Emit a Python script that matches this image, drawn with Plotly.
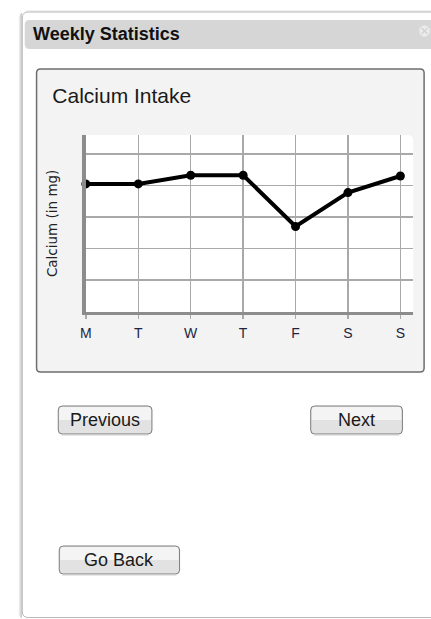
import plotly.graph_objects as go

# ---- data ----
days = ["M", "T", "W", "T", "F", "S", "S"]
day_pos = [0, 1, 2, 3, 4, 5, 6]
calcium_mg = [810, 810, 865, 865, 540, 755, 860]

W, H = 431, 619


def X(px):
    return px / W


def Y(py):
    return 1 - py / H


def rrect(x0, y0, x1, y1, r=4, tl=True, tr=True, br=True, bl=True):
    rtl = r if tl else 0
    rtr = r if tr else 0
    rbr = r if br else 0
    rbl = r if bl else 0
    p = f"M {X(x0 + rtl)},{Y(y0)} L {X(x1 - rtr)},{Y(y0)} "
    p += f"Q {X(x1)},{Y(y0)} {X(x1)},{Y(y0 + rtr)} " if rtr else ""
    p += f"L {X(x1)},{Y(y1 - rbr)} "
    p += f"Q {X(x1)},{Y(y1)} {X(x1 - rbr)},{Y(y1)} " if rbr else ""
    p += f"L {X(x0 + rbl)},{Y(y1)} "
    p += f"Q {X(x0)},{Y(y1)} {X(x0)},{Y(y1 - rbl)} " if rbl else ""
    p += f"L {X(x0)},{Y(y0 + rtl)} "
    p += f"Q {X(x0)},{Y(y0)} {X(x0 + rtl)},{Y(y0)} " if rtl else ""
    p += "Z"
    return p


shapes = []


def add_path(path, fill="rgba(0,0,0,0)", line="rgba(0,0,0,0)", lw=0, layer="below"):
    shapes.append(dict(type="path", path=path, xref="paper", yref="paper",
                       fillcolor=fill, line=dict(color=line, width=lw), layer=layer))


def add_line(x0, y0, x1, y1, color, lw=1, layer="below"):
    shapes.append(dict(type="line", xref="paper", yref="paper",
                       x0=X(x0), y0=Y(y0), x1=X(x1), y1=Y(y1),
                       line=dict(color=color, width=lw), layer=layer))


# window shadow
add_line(13.5, 16, 13.5, 616, "#ececec", 1)
add_line(14.5, 14, 14.5, 617, "#d9d9d9", 1)
add_line(15.5, 13, 15.5, 618, "#c2c2c2", 1)
add_line(20, 11, 440, 11, "#e4e4e4", 1)
# window body
add_path(rrect(16.5, 12, 445, 617.5, r=6), fill="#ffffff", line="#b8b8b8", lw=1)
# title bar
add_path(rrect(19, 20, 445, 49, r=5), fill="#d6d6d6")
# close icon
shapes.append(dict(type="circle", xref="paper", yref="paper",
                   x0=X(419), y0=Y(25.5), x1=X(430), y1=Y(36.5),
                   fillcolor="#ececec", line=dict(color="#e2e2e2", width=1), layer="below"))
add_line(421.5, 28, 427.5, 34, "#d2d2d2", 1.5)
add_line(421.5, 34, 427.5, 28, "#d2d2d2", 1.5)
# inner panel
add_path(rrect(31, 69, 424, 372, r=4), fill="#f3f3f3", line="#6e6e6e", lw=1.5)
# plot area background
add_path(rrect(81, 135, 413, 312, r=6, tl=False, br=False, bl=False), fill="#ffffff")


def button(x0, y0, x1, y1):
    add_path(rrect(x0, y0, x1, y1, r=4), fill="#e2e2e2")
    add_path(rrect(x0 + 1, y0 + 1, x1 - 1, (y0 + y1) / 2, r=3, bl=False, br=False), fill="#f4f4f4")
    add_path(rrect(x0, y0, x1, y1, r=4), line="#7c7c7c", lw=1)
    add_line(x0 + 3, y1 + 1, x1 - 3, y1 + 1, "#d0d0d0", 1)


button(53, 406, 148, 434)
button(309, 406, 402, 434)
button(54, 546, 176, 574)

btn_font = dict(family="Liberation Sans, Arial, sans-serif", size=18, color="#1a1a1a")
annotations = [
    dict(text="<b>Weekly Statistics</b>", x=X(25), y=Y(34.5), xref="paper", yref="paper",
         xanchor="left", yanchor="middle", showarrow=False,
         font=dict(family="Liberation Sans, Arial, sans-serif", size=18, color="#111111")),
    dict(text="Previous", x=X(100.5), y=Y(420), xref="paper", yref="paper",
         xanchor="center", yanchor="middle", showarrow=False, font=btn_font),
    dict(text="Next", x=X(355.5), y=Y(420), xref="paper", yref="paper",
         xanchor="center", yanchor="middle", showarrow=False, font=btn_font),
    dict(text="Go Back", x=X(115), y=Y(560), xref="paper", yref="paper",
         xanchor="center", yanchor="middle", showarrow=False, font=btn_font),
]

fig = go.Figure()
fig.add_trace(go.Scatter(
    x=day_pos, y=calcium_mg, mode="lines+markers",
    line=dict(color="#000000", width=4),
    marker=dict(color="#000000", size=9),
    cliponaxis=False, hoverinfo="skip", showlegend=False,
))

grid_col = "#a9a9a9"
axis_col = "#8c8c8c"
fig.update_layout(
    width=W, height=H,
    margin=dict(l=0, r=0, t=0, b=0, pad=0),
    paper_bgcolor="#ffffff",
    plot_bgcolor="rgba(0,0,0,0)",
    showlegend=False,
    title=dict(text="Calcium Intake", x=X(47), y=Y(96), xref="paper", yref="paper",
               xanchor="left", yanchor="middle",
               font=dict(family="Liberation Sans, Arial, sans-serif", size=21, color="#1a1a1a")),
    xaxis=dict(domain=[X(81), X(413)], range=[0, 6.245],
               tickmode="array", tickvals=day_pos, ticktext=days,
               showgrid=True, gridcolor=grid_col, gridwidth=1.5,
               showline=True, linecolor=axis_col, linewidth=3.5,
               ticks="outside", ticklen=4, tickcolor=grid_col, tickwidth=1.5,
               ticklabelstandoff=2,
               tickfont=dict(family="Liberation Sans, Arial, sans-serif", size=14, color="#1c2541"),
               zeroline=False, fixedrange=True),
    yaxis=dict(domain=[Y(311.7), Y(135)], range=[0, 1120], tick0=0, dtick=200,
               showticklabels=False, ticks="",
               showgrid=True, gridcolor=grid_col, gridwidth=1.5,
               showline=True, linecolor=axis_col, linewidth=3.5,
               zeroline=False, fixedrange=True,
               title=dict(text="Calcium (in mg)", standoff=22,
                          font=dict(family="DejaVu Sans, sans-serif", size=13.5, color="#222222"))),
    shapes=shapes,
    annotations=annotations,
)

fig.write_html(
    "out.html",
    config={"displayModeBar": False, "staticPlot": True},
    post_script=(
        "document.documentElement.style.margin='0';"
        "document.body.style.margin='0';document.body.style.padding='0';"
        "document.documentElement.style.overflow='hidden';"
        "var d=document.getElementById('{plot_id}');"
        "d.style.position='absolute';d.style.left='0px';d.style.top='0px';"
    ),
)
